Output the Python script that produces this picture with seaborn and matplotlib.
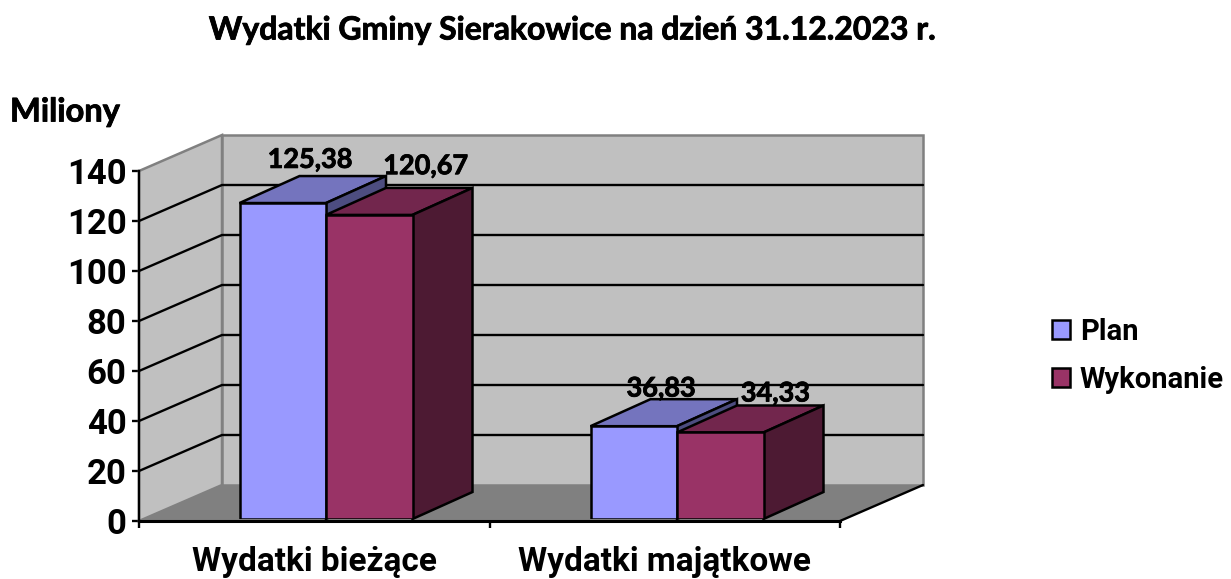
import pandas as pd
import seaborn as sns
import matplotlib.pyplot as plt
import matplotlib.patheffects as pe
from matplotlib.patches import Polygon

categories = ['Wydatki bieżące', 'Wydatki majątkowe']
plan = [125.38, 36.83]
wykonanie = [120.67, 34.33]
series_names = ['Plan', 'Wykonanie']
value_labels = [['125,38', '36,83'], ['120,67', '34,33']]
y_ticks = [0, 20, 40, 60, 80, 100, 120, 140]

W, H = 1231, 579
FRONT = '#9999FF', '#993366'
TOP = '#7474BE', '#72264D'
SIDE = '#4D4D80', '#4D1A33'
# Lato bold is lighter than the original font, so thicken the glyphs a bit
HEAVY = [pe.withStroke(linewidth=0.6, foreground='black')]

df = pd.DataFrame({
    'kategoria': categories * 2,
    'seria': [series_names[0]] * 2 + [series_names[1]] * 2,
    'wartosc': plan + wykonanie,
})

sns.set_style('white')
plt.rcParams['font.family'] = ['Lato', 'DejaVu Sans']
plt.rcParams['text.color'] = 'black'
plt.rcParams['xtick.labelcolor'] = 'black'
plt.rcParams['ytick.labelcolor'] = 'black'
fig = plt.figure(figsize=(W / 100, H / 100), dpi=100)


def axes_px(left, right, top, bottom):
    return [left / W, 1 - bottom / H, (right - left) / W, (bottom - top) / H]


# front plane of the 3D box: walls, floor, ticks
ax = fig.add_axes(axes_px(139, 840, 171, 521))
ax.set_xlim(-0.5, 1.5)
ax.set_ylim(0, 140)
ax.set_facecolor('none')
dx = 83 / 350.5
dy = 36 / 2.5
x0, x1 = -0.5, 1.5

ax.add_patch(Polygon([(x0, 0), (x0 + dx, dy), (x0 + dx, 140 + dy), (x0, 140)],
                     fc='#C0C0C0', ec='#808080', lw=1.8, clip_on=False, zorder=1))
ax.add_patch(Polygon([(x0 + dx, dy), (x1 + dx, dy), (x1 + dx, 140 + dy), (x0 + dx, 140 + dy)],
                     fc='#C0C0C0', ec='#808080', lw=1.8, clip_on=False, zorder=1))
ax.add_patch(Polygon([(x0, 0), (x1, 0), (x1 + dx, dy), (x0 + dx, dy)],
                     fc='#808080', ec='none', clip_on=False, zorder=1))
ax.plot([x1, x1 + dx], [0, dy], color='black', lw=1.7, clip_on=False, zorder=2)
for v in y_ticks[1:-1]:
    ax.plot([x0, x0 + dx, x1 + dx], [v, v + dy, v + dy], color='black', lw=1.7,
            clip_on=False, zorder=2)

sns.despine(ax=ax, right=True, top=True)
for side in ['left', 'bottom']:
    ax.spines[side].set_color('black')
    ax.spines[side].set_zorder(3)
ax.spines['left'].set_linewidth(1.7)
ax.spines['bottom'].set_linewidth(2.2)
ax.set_yticks(y_ticks)
ax.set_yticklabels([str(v) for v in y_ticks], fontfamily='Roboto', fontweight='bold', fontsize=25)
ax.tick_params(axis='y', length=5, width=1.7, color='black', pad=4, left=True)
ax.set_xticks([-0.5, 0.5, 1.5])
ax.set_xticklabels([])
ax.set_xticks([0, 1], minor=True)
ax.set_xticklabels(categories, minor=True, fontfamily='Roboto', fontweight='bold', fontsize=24)
ax.tick_params(axis='x', which='major', length=5, width=1.7, color='black', bottom=True)
ax.tick_params(axis='x', which='minor', length=0, pad=18)

# bars sit slightly inside the box, so they get their own axes
ax_bars = fig.add_axes(axes_px(150.5, 852.5, 166.2, 519))
sns.barplot(data=df, x='kategoria', y='wartosc', hue='seria', order=categories,
            hue_order=series_names, palette=dict(zip(series_names, FRONT)),
            width=173 / 351, gap=0, edgecolor='black', linewidth=1.8, saturation=1,
            ax=ax_bars, legend=True)
ax_bars.set_xlim(-0.5, 1.5)
ax_bars.set_ylim(0, 140)
handles, labels = ax_bars.get_legend_handles_labels()
ax_bars.get_legend().remove()
ax_bars.set_axis_off()

bdx = 60 / 351
bdy = 27 / 2.52
label_offsets = [[(-2, 3), (-2, -1)], [(19, 7), (18, 0)]]
for s, container in enumerate(ax_bars.containers):
    for c, bar in enumerate(container):
        bar.set_zorder(3 + 2 * s)
        bl, br = bar.get_x(), bar.get_x() + bar.get_width()
        top = bar.get_height()
        ax_bars.add_patch(Polygon([(bl, top), (br, top), (br + bdx, top + bdy), (bl + bdx, top + bdy)],
                                  fc=TOP[s], ec='black', lw=1.8, clip_on=False, zorder=2 + 2 * s))
        ax_bars.add_patch(Polygon([(br, 0), (br + bdx, bdy), (br + bdx, top + bdy), (br, top)],
                                  fc=SIDE[s], ec='black', lw=1.8, clip_on=False, zorder=2 + 2 * s))
        ax_bars.annotate(value_labels[s][c], xy=((bl + br) / 2 + bdx / 2, top + bdy),
                         xytext=label_offsets[s][c], textcoords='offset points',
                         ha='center', va='bottom', fontsize=19.5, fontweight='bold',
                         color='black', zorder=10, annotation_clip=False, path_effects=HEAVY)

fig.text(573 / W, 1 - 30 / H, 'Wydatki Gminy Sierakowice na dzień 31.12.2023 r.',
         ha='center', va='center', fontsize=23, fontweight='bold', path_effects=HEAVY)
fig.text(10 / W, 1 - 112 / H, 'Miliony', ha='left', va='center', fontsize=23.5,
         fontweight='bold', path_effects=HEAVY)

for h in handles:
    h.set_edgecolor('black')
    h.set_linewidth(1.8)
fig.legend(handles, labels, loc='center left', bbox_to_anchor=(1052 / W, 1 - 356 / H),
           frameon=False, handlelength=0.62, handleheight=0.62, handletextpad=0.34,
           labelspacing=0.69, borderpad=0, borderaxespad=0,
           prop={'family': 'Roboto', 'weight': 'bold', 'size': 21})

fig.savefig('out.png', dpi=100)
